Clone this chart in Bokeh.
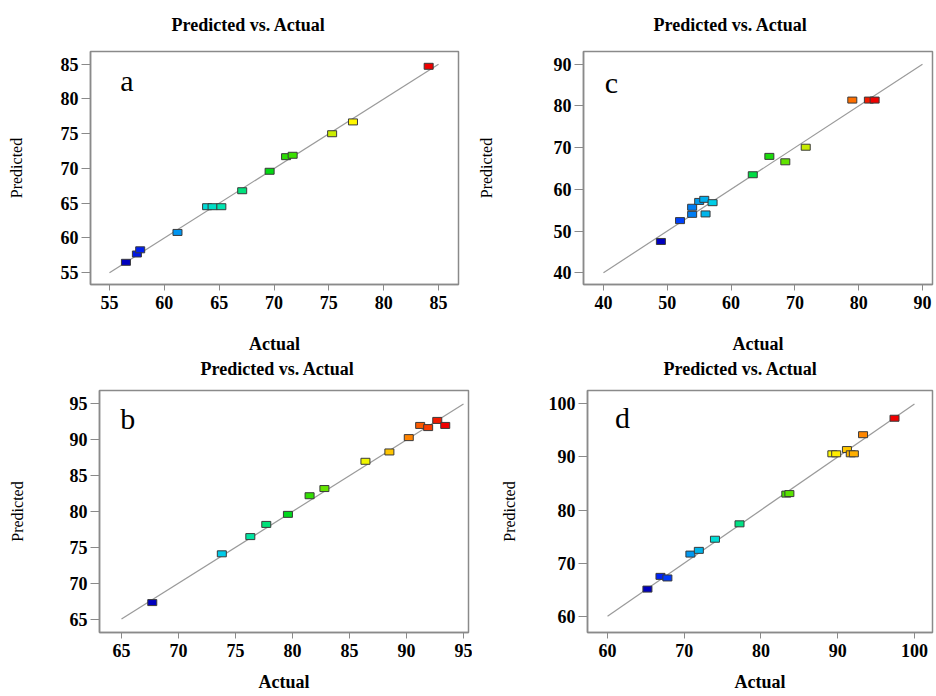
from bokeh.plotting import figure
from bokeh.layouts import column, row
from bokeh.models import ColumnDataSource, Label, FixedTicker, Range1d, Title
from bokeh.transform import linear_cmap
from bokeh.embed import file_html
from bokeh.resources import INLINE

# ---------------- data ----------------
a_actual = [56.5, 57.5, 57.8, 61.2, 63.9, 64.4, 65.2, 67.1, 69.6, 71.1, 71.7, 75.3, 77.2, 84.1]
a_pred   = [56.5, 57.7, 58.3, 60.8, 64.5, 64.5, 64.5, 66.8, 69.6, 71.7, 71.9, 75.0, 76.7, 84.7]
a_ticks  = [55, 60, 65, 70, 75, 80, 85]

c_actual = [49.0, 52.0, 53.9, 53.9, 55.0, 55.8, 56.0, 57.1, 63.4, 66.0, 68.5, 71.7, 79.0, 81.6, 82.5]
c_pred   = [47.5, 52.5, 54.0, 55.7, 57.1, 57.6, 54.1, 56.8, 63.5, 67.9, 66.6, 70.1, 81.4, 81.4, 81.4]
c_ticks  = [40, 50, 60, 70, 80, 90]

b_actual = [67.7, 73.8, 76.3, 77.7, 79.6, 81.5, 82.8, 86.4, 88.5, 90.2, 91.2, 91.9, 92.7, 93.4]
b_pred   = [67.3, 74.1, 76.5, 78.2, 79.6, 82.2, 83.2, 87.0, 88.3, 90.3, 92.0, 91.7, 92.7, 92.0]
b_ticks  = [65, 70, 75, 80, 85, 90, 95]

d_actual = [65.2, 66.9, 67.8, 70.8, 71.9, 74.0, 77.2, 83.3, 83.7, 89.3, 89.8, 91.2, 91.7, 92.1, 93.3, 97.4]
d_pred   = [65.1, 67.5, 67.2, 71.7, 72.4, 74.5, 77.4, 83.0, 83.1, 90.6, 90.6, 91.4, 90.6, 90.6, 94.2, 97.3]
d_ticks  = [60, 70, 80, 90, 100]

TITLE = "Predicted vs. Actual"
XLABEL = "Actual"
YLABEL = "Predicted"

# ---------------- style ----------------
FONT = "Liberation Serif"
GRAY = "#8a8a8a"

stops = [(0.00, (0, 0, 190)), (0.06, (0, 40, 255)), (0.17, (0, 150, 240)),
         (0.25, (0, 215, 230)), (0.31, (0, 230, 180)), (0.39, (0, 225, 120)),
         (0.47, (0, 215, 20)), (0.55, (60, 225, 0)), (0.68, (200, 235, 0)),
         (0.75, (255, 250, 0)), (0.82, (255, 190, 0)), (0.89, (255, 120, 0)),
         (1.00, (240, 0, 0))]


def make_palette(n=256):
    pal = []
    for i in range(n):
        t = i / (n - 1)
        for (t0, c0), (t1, c1) in zip(stops[:-1], stops[1:]):
            if t0 <= t <= t1:
                f = (t - t0) / (t1 - t0)
                rgb = [round(c0[k] + (c1[k] - c0[k]) * f) for k in range(3)]
                pal.append("#%02x%02x%02x" % tuple(rgb))
                break
    return pal


PALETTE = make_palette()


def panel(actual, pred, ticks, xr, yr, letter, letter_xy, width, height,
          bl, br, bt, bb, ylab_standoff, xlab_standoff, title_gap, title_offset):
    p = figure(width=width, height=height, output_backend="svg", toolbar_location=None,
               x_range=Range1d(*xr), y_range=Range1d(*yr),
               min_border_left=bl, min_border_right=br, min_border_top=bt, min_border_bottom=bb)
    # spacer (closest to the frame) followed by the real title
    p.add_layout(Title(text=" ", text_font_size="1px", standoff=title_gap), "above")
    p.add_layout(Title(text=TITLE, align="left", offset=title_offset, text_font=FONT,
                       text_font_size="18px", text_font_style="bold", text_color="black",
                       standoff=0), "above")
    p.grid.visible = False
    p.outline_line_color = GRAY
    p.outline_line_width = 1.5
    p.background_fill_color = "white"
    p.border_fill_color = "white"

    for ax in (p.xaxis[0], p.yaxis[0]):
        ax.ticker = FixedTicker(ticks=ticks)
        ax.axis_line_color = GRAY
        ax.axis_line_width = 1.5
        ax.major_tick_line_color = GRAY
        ax.major_tick_in = 0
        ax.minor_tick_line_color = None
        ax.major_label_text_font = FONT
        ax.major_label_text_font_size = "18px"
        ax.major_label_text_font_style = "bold"
        ax.major_label_text_color = "black"
        ax.axis_label_text_font = FONT
        ax.axis_label_text_color = "black"

    p.xaxis.major_tick_out = 6
    p.xaxis.major_label_standoff = 5
    p.xaxis.axis_label = XLABEL
    p.xaxis.axis_label_text_font_size = "18px"
    p.xaxis.axis_label_text_font_style = "bold"
    p.xaxis.axis_label_standoff = xlab_standoff

    p.yaxis.major_tick_out = 9
    p.yaxis.major_label_standoff = 3
    p.yaxis.axis_label = YLABEL
    p.yaxis.axis_label_text_font_size = "16px"
    p.yaxis.axis_label_text_font_style = "normal"
    p.yaxis.axis_label_standoff = ylab_standoff

    # 1:1 reference line through the tick span
    p.line([ticks[0], ticks[-1]], [ticks[0], ticks[-1]], line_color="#9a9a9a", line_width=1.2)

    src = ColumnDataSource(dict(actual=actual, pred=pred))
    p.rect("actual", "pred", width=9, height=6, width_units="screen", height_units="screen",
           source=src, line_color="#3a3a3a", line_width=1,
           fill_color=linear_cmap("actual", PALETTE, min(actual), max(actual)))

    p.add_layout(Label(x=letter_xy[0], y=letter_xy[1], text=letter, text_font=FONT,
                       text_font_size="30px", text_align="center", text_baseline="middle",
                       text_color="black"))
    return p


pa = panel(a_actual, a_pred, a_ticks, (53.27, 86.82), (53.31, 86.83), "a", (56.6, 82.7),
           472, 356, 90, 14, 51, 67, 33, 22, 14, 81)
pc = panel(c_actual, c_pred, c_ticks, (36.87, 91.57), (37.18, 93.05), "c", (41.25, 85.66),
           462, 356, 111, 2, 51, 67, 56, 22, 14, 70)
pb = panel(b_actual, b_pred, b_ticks, (63.07, 95.44), (63.13, 96.87), "b", (65.55, 93.0),
           472, 338, 99, 4, 29, 57, 41, 12, 9, 101)
pd_ = panel(d_actual, d_pred, d_ticks, (57.39, 102.35), (56.92, 102.53), "d", (61.95, 97.5),
            462, 338, 115, 2, 29, 57, 28, 12, 9, 76)

layout = column(row(pa, pc), row(pb, pd_))
open("out.html", "w").write(file_html(layout, INLINE))
